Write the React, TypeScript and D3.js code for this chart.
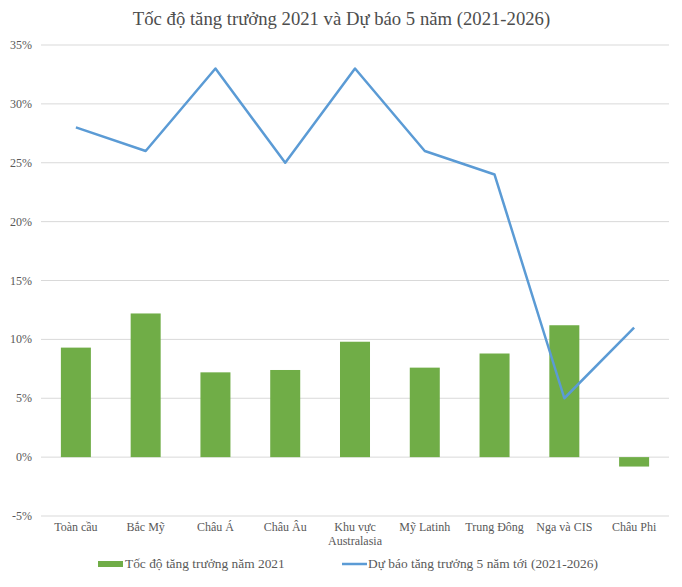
import React from "react";
import * as d3 from "d3";

const categories = ["Toàn cầu", "Bắc Mỹ", "Châu Á", "Châu Âu", "Khu vực\nAustralasia", "Mỹ Latinh", "Trung Đông", "Nga và CIS", "Châu Phi"];
const growth2021 = [9.3, 12.2, 7.2, 7.4, 9.8, 7.6, 8.8, 11.2, -0.8];
const forecast5y = [28, 26, 33, 25, 33, 26, 24, 5, 11];
const yTicks = [-5, 0, 5, 10, 15, 20, 25, 30, 35];
const title = "Tốc độ tăng trưởng 2021 và Dự báo 5 năm (2021-2026)";
const legendBar = "Tốc độ tăng trưởng năm 2021";
const legendLine = "Dự báo tăng trưởng 5 năm tới (2021-2026)";

export default function App() {
  const W = 682, H = 587;
  const left = 41, right = 669, top = 45, bottom = 516;
  const x = d3.scaleBand<string>().domain(categories).range([left, right]).paddingInner(0.57).paddingOuter(0.285);
  const y = d3.scaleLinear().domain([-5, 35]).range([bottom, top]);
  const cx = (c: string) => (x(c) as number) + x.bandwidth() / 2;
  const line = d3.line<number>().x((_, i) => cx(categories[i])).y(d => y(d));
  const font = "'Liberation Serif', 'Times New Roman', serif";
  return (
    <svg width={W} height={H} style={{ position: "absolute", left: 0, top: 0, background: "#fff" }} fontFamily={font}>
      <text x={341.5} y={25} textAnchor="middle" fontSize={18.7} fill="#4d4d4d">{title}</text>
      {yTicks.map(t => (
        <g key={t}>
          <line x1={left} x2={right} y1={y(t)} y2={y(t)} stroke="#d9d9d9" strokeWidth={1} />
          <text x={32} y={y(t) + 4} textAnchor="end" fontSize={12} fill="#595959">{t}%</text>
        </g>
      ))}
      {categories.map((c, i) => (
        <rect key={c} x={x(c)} width={x.bandwidth()} y={y(Math.max(0, growth2021[i]))} height={Math.abs(y(growth2021[i]) - y(0))} fill="#70ad47" />
      ))}
      <path d={line(forecast5y) as string} fill="none" stroke="#5b9bd5" strokeWidth={2.5} strokeLinejoin="round" />
      {categories.map(c => (
        <text key={c} x={cx(c)} y={531} textAnchor="middle" fontSize={12} fill="#595959">
          {c.split("\n").map((s, j) => <tspan key={j} x={cx(c)} dy={j === 0 ? 0 : 14}>{s}</tspan>)}
        </text>
      ))}
      <rect x={98} y={561} width={25} height={6} fill="#70ad47" />
      <text x={125} y={568} fontSize={13.4} fill="#595959">{legendBar}</text>
      <line x1={342} x2={367} y1={564} y2={564} stroke="#5b9bd5" strokeWidth={2.5} />
      <text x={368} y={568} fontSize={13.4} fill="#595959">{legendLine}</text>
    </svg>
  );
}
